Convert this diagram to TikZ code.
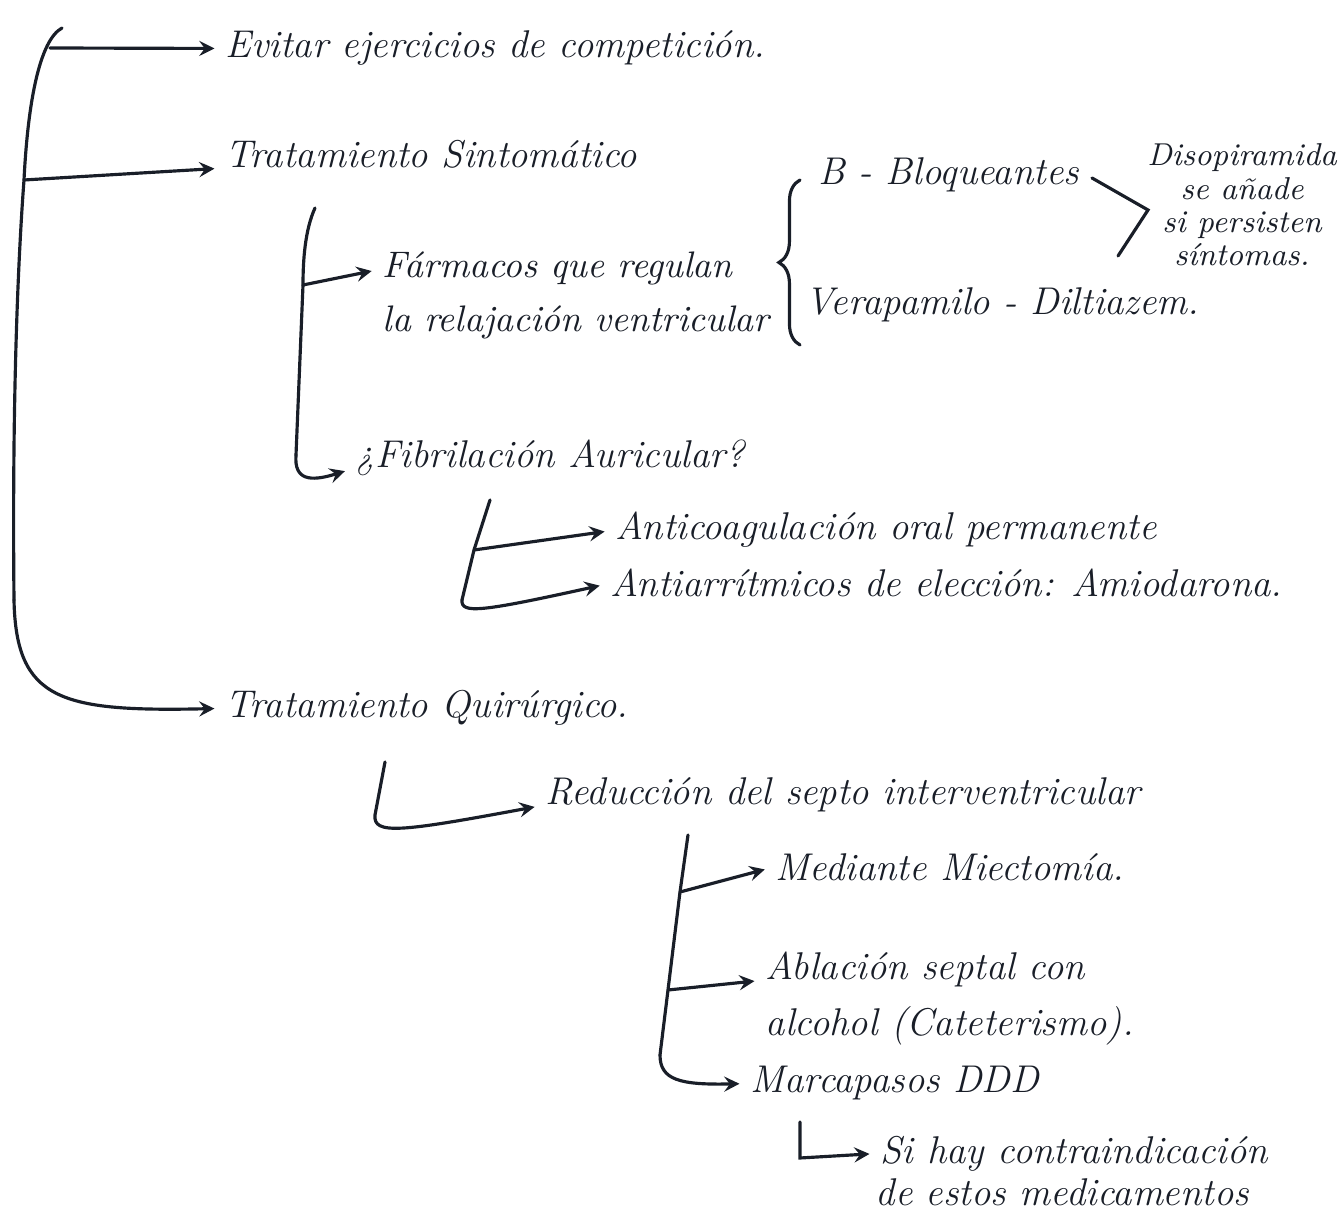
\documentclass[tikz,border=0pt]{standalone}
\usetikzlibrary{decorations.pathreplacing}
\definecolor{inkc}{RGB}{25,30,40}

\begin{document}
\begin{tikzpicture}[x=0.01cm,y=-0.01cm,
  ink/.style={draw=inkc,line width=0.9pt,line cap=round},
  arr/.style={ink,-stealth,shorten >=3pt},
  txt/.style={text=inkc,font=\fontsize{11}{13}\selectfont\itshape,inner sep=0pt,anchor=base west}]
\useasboundingbox (0,0) rectangle (1342,1213);
% main branch
\node[txt] (evitar) at (225,58) {Evitar ejercicios de competición.};
\node[txt] (sint) at (225,168) {Tratamiento Sintomático};
\node[txt] (quir) at (225,718) {Tratamiento Quirúrgico.};
\coordinate (m0) at (62,28);
\coordinate (m1) at (50,48);
\coordinate (m2) at (24,180);
\coordinate (m3) at (14,600);
\draw[ink] (m0) .. controls (40,40) and (28,100) .. (m2) .. controls (18,260) and (12,400) .. (m3);
\draw[arr] (m3) .. controls (16,700) and (60,712) .. (quir.west);
\draw[arr] (m1) -- (evitar.west);
\draw[arr] (m2) -- (sint.base west);
% sintomatico
\node[txt,font=\fontsize{10.5}{13}\selectfont\itshape] (farmA) at (382,278) {Fármacos que regulan};
\node[txt,font=\fontsize{10.5}{13}\selectfont\itshape] (farmB) at (382,332) {la relajación ventricular};
\node[txt] (fib) at (355,468) {¿Fibrilación Auricular?};
\coordinate (s0) at (315,208);
\coordinate (s1) at (303,285);
\coordinate (s2) at (296,455);
\draw[ink] (s0) .. controls (305,230) and (303,260) .. (s1) -- (s2);
\draw[arr] (s1) -- (farmA.west);
\draw[arr] (s2) .. controls (294,480) and (310,482) .. (fib.base west);
% farmacos
\node[txt] (bloq) at (818,185) {B - Bloqueantes};
\node[txt] (vera) at (805,315) {Verapamilo - Diltiazem.};
\coordinate (k0) at (800,345);
\coordinate (k1) at (800,180);
\draw[ink,decorate,decoration={brace,amplitude=6pt}] (k0) -- (k1);
\coordinate (g0) at (1092,178);
\coordinate (g1) at (1148,210);
\coordinate (g2) at (1118,256);
\draw[ink] (g0) -- (g1) -- (g2);
\node[text=inkc,font=\fontsize{9}{9.5}\selectfont\itshape,align=center] (diso) at (1242,205) {Disopiramida\\se añade\\si persisten\\síntomas.};
% fibrilacion
\node[txt] (anti1) at (615,540) {Anticoagulación oral permanente};
\node[txt] (anti2) at (610,597) {Antiarrítmicos de elección: Amiodarona.};
\coordinate (f0) at (490,500);
\coordinate (f1) at (474,550);
\coordinate (f2) at (462,600);
\draw[ink] (f0) -- (f1) -- (f2);
\draw[arr] (f1) -- (anti1.west);
\draw[arr] (f2) .. controls (461,614) and (480,612) .. (anti2.west);
% quirurgico
\node[txt] (red) at (545,805) {Reducción del septo interventricular};
\coordinate (q0) at (385,762);
\coordinate (q1) at (375,815);
\draw[arr] (q0) -- (q1) .. controls (373,835) and (400,832) .. (red.base west);
\node[txt] (medi) at (775,880) {Mediante Miectomía.};
\node[txt] (abl1) at (765,980) {Ablación septal con};
\node[txt] (abl2) at (765,1035) {alcohol (Cateterismo).};
\node[txt] (marc) at (750,1093) {Marcapasos DDD};
\coordinate (r0) at (688,835);
\coordinate (r1) at (680,892);
\coordinate (r2) at (668,990);
\coordinate (r3) at (660,1055);
\draw[ink] (r0) -- (r1) -- (r2) -- (r3);
\draw[arr] (r1) -- (medi.west);
\draw[arr] (r2) -- (abl1.base west);
\draw[arr] (r3) .. controls (660,1080) and (680,1085) .. (marc.west);
% marcapasos
\node[txt] (sihay1) at (880,1163) {Si hay contraindicación};
\node[txt] (sihay2) at (875,1205) {de estos medicamentos};
\coordinate (h0) at (800,1122);
\coordinate (h1) at (800,1158);
\draw[arr] (h0) -- (h1) -- (sihay1.west);
\end{tikzpicture}
\end{document}
